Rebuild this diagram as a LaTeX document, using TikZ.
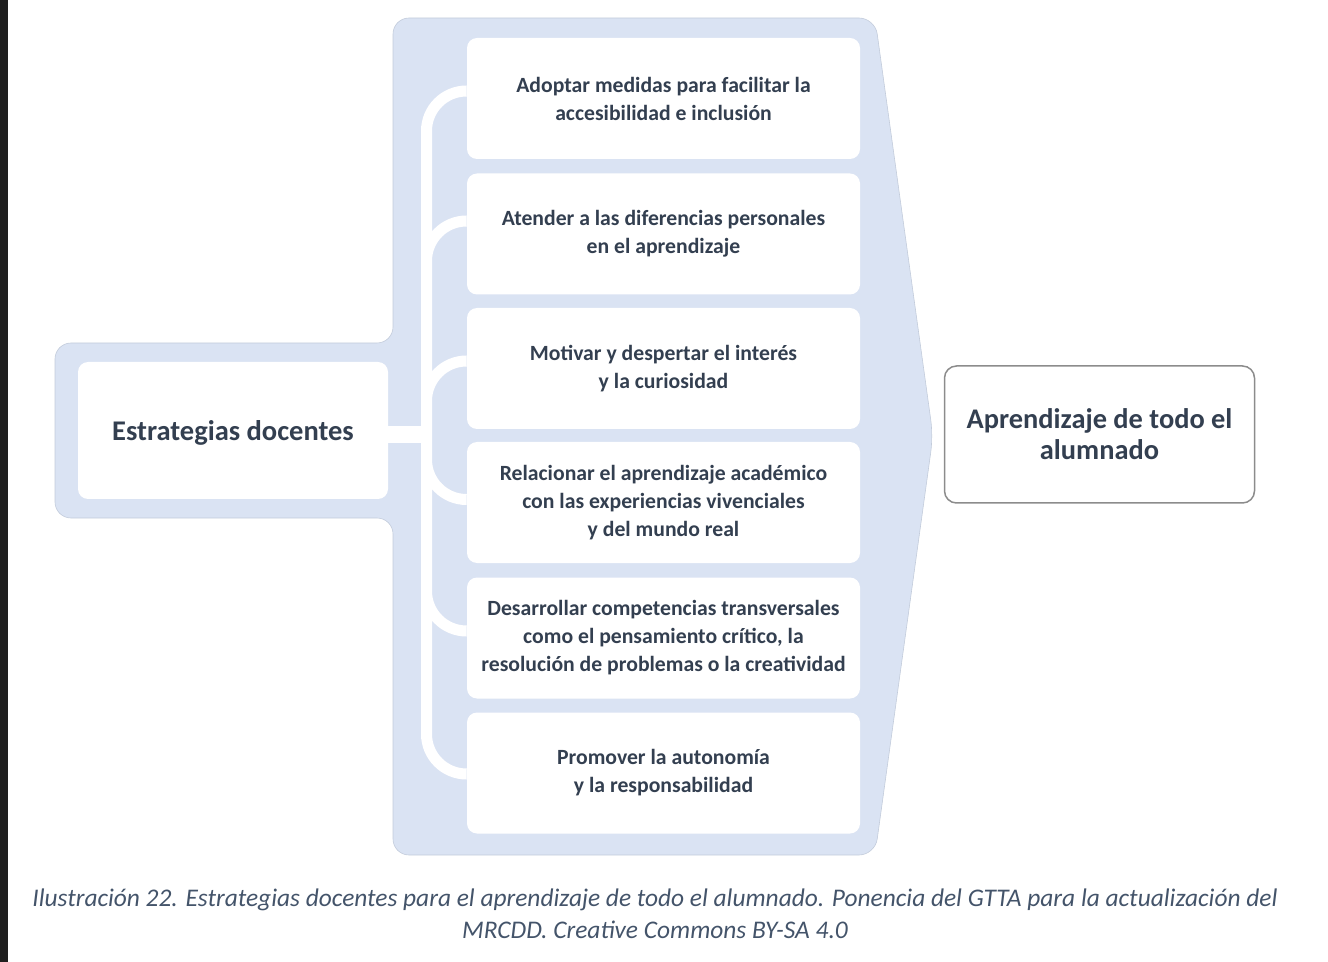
\documentclass[tikz,border=0pt]{standalone}
\usepackage{fontspec}
\setmainfont{Carlito}
\usetikzlibrary{positioning}
\definecolor{panelblue}{HTML}{DAE3F3}
\definecolor{paneledge}{HTML}{C3CCDB}
\definecolor{textdark}{HTML}{333F50}
\definecolor{captiongray}{HTML}{44546A}

\begin{document}
\begin{tikzpicture}[x=0.5pt, y=-0.5pt,
  strat/.style={fill=white, rounded corners=5pt, inner sep=0pt,
    minimum width=196.5pt, minimum height=60.5pt, align=center,
    text=textdark, font=\bfseries\fontsize{10.85}{14}\selectfont},
  mainbox/.style={fill=white, rounded corners=6pt, inner sep=0pt,
    minimum width=155pt, minimum height=68.5pt, align=center,
    text=textdark, font=\bfseries\fontsize{14.2}{15.5}\selectfont},
  link/.style={white, line width=5.5pt, rounded corners=20pt}]
\useasboundingbox (0,0) rectangle (1328,962);
\fill[black!88] (0,0) rectangle (8,962);

% Background panel
\filldraw[fill=panelblue, draw=paneledge, line width=0.3pt, rounded corners=8pt]
(55,343) -- (393,343) -- (393,18) -- (875,18) -- (933,436)
-- (875,855) -- (393,855) -- (393,518) -- (55,518) -- cycle;

% Define nodes
\path
(233,430.5) node[strat, minimum width=155pt, minimum height=68.5pt, text depth=0pt,
  font=\bfseries\fontsize{14.25}{16}\selectfont] (est) {Estrategias docentes}
(663.5,98.5) node[strat] (s1) {Adoptar medidas para facilitar la\\accesibilidad e inclusión}
(663.5,234) node[strat] (s2) {Atender a las diferencias personales\\en el aprendizaje}
(663.5,368.5) node[strat] (s3) {Motivar y despertar el interés\\y la curiosidad}
(663.5,502.5) node[strat] (s4) {Relacionar el aprendizaje académico\\con las experiencias vivenciales\\y del mundo real}
(663.5,638) node[strat] (s5) {Desarrollar competencias transversales\\como el pensamiento crítico, la\\resolución de problemas o la creatividad}
(663.5,773) node[strat] (s6) {Promover la autonomía\\y la responsabilidad}
(1099.5,434.5) node[mainbox, draw=black!45, line width=0.75pt] (apr) {Aprendizaje de todo el\\alumnado}
;
\coordinate (bus) at (426.5,435);

\draw[white, line width=8.5pt] (est.east |- bus) -- (bus);
\draw[link]
(bus) |- ([yshift=3.75pt]s1.west)
(bus) |- ([yshift=6.5pt]s2.west)
(bus) |- ([yshift=3.75pt]s3.west)
(bus) |- ([yshift=1.5pt]s4.west)
(bus) |- ([yshift=3.5pt]s5.west)
(bus) |- ([yshift=-0.5pt]s6.west)
;

\path (655,914) node[align=center, text=captiongray,
  font=\itshape\fontsize{12.7}{16}\selectfont] (caption)
{Ilustración 22. Estrategias docentes para el aprendizaje de todo el alumnado. Ponencia del GTTA para la actualización del\\MRCDD. Creative Commons BY-SA 4.0};

\end{tikzpicture}
\end{document}
